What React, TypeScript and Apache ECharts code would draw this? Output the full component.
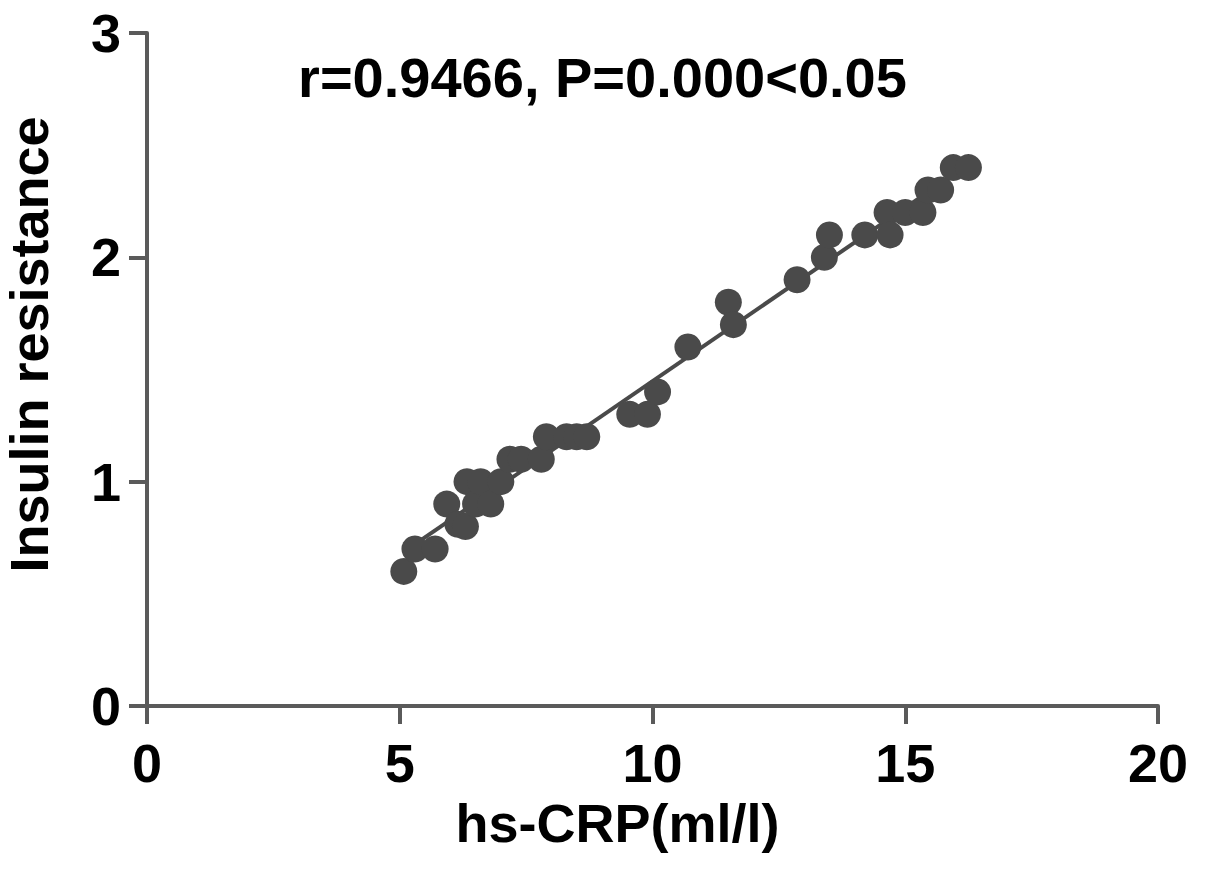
import React, { useEffect, useRef } from "react";
import * as echarts from "echarts";

const hsCRP = [
  5.08, 5.3, 5.7, 5.93, 6.15, 6.3, 6.33, 6.5, 6.6, 6.8, 7.0, 7.18, 7.4, 7.8, 7.9, 8.3, 8.5, 8.7,
  9.55, 9.9, 10.1, 10.7, 11.5, 11.6, 12.86, 13.4, 13.5, 14.2, 14.64, 14.7, 15.0, 15.35, 15.45,
  15.7, 15.95, 16.25,
];
const insulinResistance = [
  0.6, 0.7, 0.7, 0.9, 0.81, 0.8, 1.0, 0.9, 1.0, 0.9, 1.0, 1.1, 1.1, 1.1, 1.2, 1.2, 1.2, 1.2,
  1.3, 1.3, 1.4, 1.6, 1.8, 1.7, 1.9, 2.0, 2.1, 2.1, 2.2, 2.1, 2.2, 2.2, 2.3, 2.3, 2.4, 2.4,
];
const xTicks = [0, 5, 10, 15, 20];
const yTicks = [0, 1, 2, 3];
const statText = "r=0.9466, P=0.000<0.05";
const xTitle = "hs-CRP(ml/l)";
const yTitle = "Insulin resistance";

function fitLine(xs: number[], ys: number[]) {
  const n = xs.length;
  const mx = xs.reduce((a, b) => a + b, 0) / n;
  const my = ys.reduce((a, b) => a + b, 0) / n;
  let sxy = 0;
  let sxx = 0;
  for (let i = 0; i < n; i++) {
    sxy += (xs[i] - mx) * (ys[i] - my);
    sxx += (xs[i] - mx) * (xs[i] - mx);
  }
  const b = sxy / sxx;
  const a = my - b * mx;
  const x0 = Math.min(...xs);
  const x1 = Math.max(...xs);
  return [
    [x0, a + b * x0],
    [x1, a + b * x1],
  ];
}

export default function App() {
  const ref = useRef<HTMLDivElement>(null);
  useEffect(() => {
    if (!ref.current) return;
    const chart = echarts.init(ref.current, undefined, { renderer: "svg" });
    const font = "'Liberation Sans', Arial, sans-serif";
    const axisColor = "#5a5a5a";
    const pts = hsCRP.map((x, i) => [x, insulinResistance[i]]);
    chart.setOption({
      animation: false,
      backgroundColor: "#ffffff",
      title: {
        text: statText,
        left: "center",
        top: 44,
        textStyle: { fontFamily: font, fontWeight: "bold", fontSize: 56, color: "#000" },
      },
      grid: { left: 147, right: 47, top: 33, bottom: 163, outerBoundsMode: "none", containLabel: false },
      xAxis: {
        type: "value",
        min: xTicks[0],
        max: xTicks[xTicks.length - 1],
        interval: 5,
        name: xTitle,
        nameLocation: "middle",
        nameGap: 90,
        nameTextStyle: {
          fontFamily: font,
          fontWeight: "bold",
          fontSize: 54,
          color: "#000",
          padding: [0, 70, 0, 0],
        },
        axisLine: { show: true, onZero: false, lineStyle: { color: axisColor, width: 4 } },
        axisTick: { show: true, inside: false, length: 18, lineStyle: { color: axisColor, width: 4 } },
        axisLabel: { fontFamily: font, fontWeight: "bold", fontSize: 54, color: "#000", margin: 30 },
        splitLine: { show: false },
      },
      yAxis: {
        type: "value",
        min: yTicks[0],
        max: yTicks[yTicks.length - 1],
        interval: 1,
        name: yTitle,
        nameLocation: "middle",
        nameGap: 91,
        nameTextStyle: {
          fontFamily: font,
          fontWeight: "bold",
          fontSize: 54,
          color: "#000",
          padding: [0, 0, 0, 50],
        },
        axisLine: { show: true, onZero: false, lineStyle: { color: axisColor, width: 4 } },
        axisTick: { show: true, inside: false, length: 18, lineStyle: { color: axisColor, width: 4 } },
        axisLabel: { fontFamily: font, fontWeight: "bold", fontSize: 54, color: "#000", margin: 26 },
        splitLine: { show: false },
      },
      series: [
        {
          type: "line",
          data: fitLine(hsCRP, insulinResistance),
          showSymbol: false,
          symbol: "none",
          lineStyle: { color: "#4a4a4a", width: 4 },
          z: 1,
        },
        {
          type: "scatter",
          data: pts,
          symbol: "circle",
          symbolSize: 27,
          itemStyle: { color: "#4a4a4a", opacity: 1 },
          z: 2,
        },
      ],
    });
    return () => chart.dispose();
  }, []);
  return <div ref={ref} style={{ width: 1205, height: 869, margin: -8 }} />;
}
